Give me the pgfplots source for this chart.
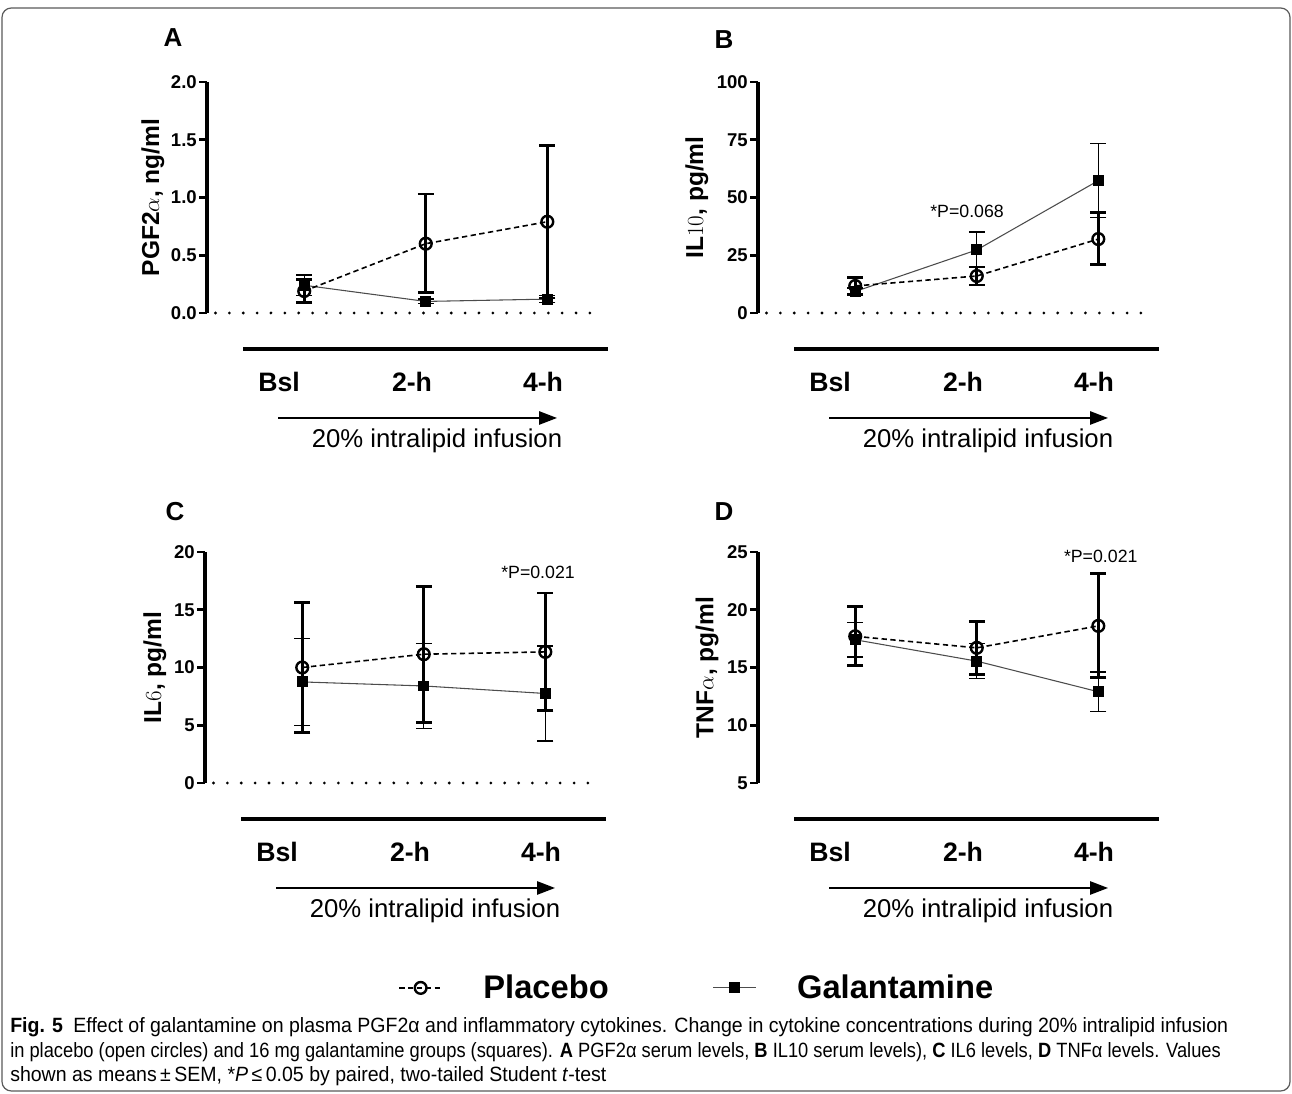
\documentclass[border=0pt]{standalone}
\usepackage[no-math]{fontspec}
\usepackage{pgfplots}
\pgfplotsset{compat=1.18}
\usetikzlibrary{arrows.meta}
\setmainfont{Liberation Sans}
\newfontfamily\capfont{Liberation Sans}[FakeStretch=0.945]
\newfontfamily\capfontB{Liberation Sans}[FakeStretch=0.885]

\pgfplotsset{
  panel/.style={
    scale only axis, width=296.25pt, height=173.25pt,
    xmin=-0.8, xmax=2.45,
    axis x line=none, axis y line=left,
    y axis line style={line width=3pt,-},
    ytick style={line width=2.2pt, black},
    major tick length=6pt, tick align=outside,
    yticklabel style={font=\fontsize{13.9}{14}\selectfont\bfseries, inner sep=1.5pt},
    ylabel style={font=\fontsize{18.4}{20}\selectfont\bfseries, anchor=center},
    clip=false,
    legend image code/.code={\draw[mark repeat=2,mark phase=2,##1] plot coordinates {(0pt,0pt)(16pt,0pt)(32pt,0pt)};},
  },
  plac/.style={black, line width=1.2pt, dash pattern=on 4pt off 2.6pt, mark=o, mark size=4.4pt,
    mark options={solid, line width=1.8pt},
    error bars/y dir=both, error bars/y explicit,
    error bars/error bar style={line width=2.2pt, solid, black},
    error bars/error mark options={rotate=90, mark size=6pt, line width=2.2pt, solid, black}},
  gal/.style={black!70, line width=0.8pt, mark=square*, mark size=3.7pt, mark options={black, solid},
    error bars/y dir=both, error bars/y explicit,
    error bars/error bar style={line width=1pt, black},
    error bars/error mark options={rotate=90, mark size=6pt, line width=1pt, black}},
  zero/.style={black, line width=2.3pt, line cap=round, dash pattern=on 0pt off 10.4pt, mark=none, forget plot},
}

\newcommand\panelbottom[2]{%
 \begin{scope}[shift={(#1,#2)}]
  \draw[line width=3.4pt] (36,36) -- (401,36);
  \node[font=\fontsize{20}{22}\selectfont\bfseries] at (72,69) {Bsl};
  \node[font=\fontsize{20}{22}\selectfont\bfseries] at (205,69) {2-h};
  \node[font=\fontsize{20}{22}\selectfont\bfseries] at (336,69) {4-h};
  \draw[line width=1.3pt, -{Triangle[length=13.5pt, width=10pt]}] (71,105) -- (350,105);
  \node[font=\fontsize{19.3}{21}\selectfont] at (230,128) {20\% intralipid infusion};
 \end{scope}}

\begin{document}
\begin{tikzpicture}
\useasboundingbox (0,0) rectangle (969pt,820.5pt);

% Panel A
\begin{axis}[panel, at={(155.25pt,585.75pt)}, anchor=south west,
  ymin=0, ymax=2, ytick={0,0.5,1,1.5,2}, yticklabels={0.0,0.5,1.0,1.5,2.0},
  ylabel={PGF2$\alpha$, ng/ml}, ylabel style={at={(axis description cs:-0.137,0.5)}}]
\addplot[zero] coordinates {(-0.73,0) (2.45,0)};
\addplot[gal] coordinates {(0,0.24) +- (0,0.09) (1,0.10) +- (0,0.02) (2,0.12) +- (0,0.03)};
\addplot[plac] coordinates {(0,0.19) +- (0,0.10) (1,0.60) += (0,0.43) -= (0,0.42) (2,0.79) +- (0,0.66)};
\end{axis}

% Panel B
\begin{axis}[panel, at={(568.5pt,585.75pt)}, anchor=south west,
  ymin=0, ymax=100, ytick={0,25,50,75,100}, yticklabels={0,25,50,75,100},
  ylabel={IL$10$, pg/ml}, ylabel style={at={(axis description cs:-0.155,0.5)}}]
\addplot[zero] coordinates {(-0.73,0) (2.45,0)};
\addplot[gal] coordinates {(0,9.3) +- (0,1.5) (1,27.3) +- (0,7.7) (2,57.3) +- (0,16.1)};
\addplot[plac] coordinates {(0,11.7) +- (0,3.8) (1,16.0) +- (0,3.9) (2,32.0) += (0,11.5) -= (0,11.2)};
\node[font=\fontsize{13.3}{15}\selectfont] at (axis cs:0.92,43.8) {*P=0.068};
\end{axis}

% Panel C
\begin{axis}[panel, at={(153.75pt,233.25pt)}, anchor=south west,
  ymin=0, ymax=20, ytick={0,5,10,15,20}, yticklabels={0,5,10,15,20},
  ylabel={IL$6$, pg/ml}, ylabel style={at={(axis description cs:-0.127,0.5)}},
  legend columns=2,
  legend style={at={(axis description cs:1.246,-0.887)}, anchor=center, draw=none,
    font=\fontsize{24.5}{26}\selectfont\bfseries, inner sep=0pt,
    /tikz/every odd column/.append style={column sep=28.5pt},
    /tikz/every even column/.append style={column sep=76pt}}]
\addplot[zero] coordinates {(-0.73,0) (2.45,0)};
\addplot[plac] coordinates {(0,10.0) +- (0,5.6) (1,11.15) +- (0,5.9) (2,11.35) +- (0,5.1)};
\addlegendentry{Placebo}
\addplot[gal] coordinates {(0,8.75) +- (0,3.75) (1,8.4) +- (0,3.7) (2,7.75) +- (0,4.1)};
\addlegendentry{Galantamine}
\node[font=\fontsize{13.3}{15}\selectfont] at (axis cs:1.94,18.24) {*P=0.021};
\end{axis}

% Panel D
\begin{axis}[panel, at={(568.5pt,233.25pt)}, anchor=south west,
  ymin=5, ymax=25, ytick={5,10,15,20,25}, yticklabels={5,10,15,20,25},
  ylabel={TNF$\alpha$, pg/ml}, ylabel style={at={(axis description cs:-0.129,0.5)}}]
\addplot[gal] coordinates {(0,17.4) +- (0,1.5) (1,15.55) +- (0,1.5) (2,12.9) +- (0,1.7)};
\addplot[plac] coordinates {(0,17.7) +- (0,2.55) (1,16.7) +- (0,2.3) (2,18.6) +- (0,4.5)};
\node[font=\fontsize{13.3}{15}\selectfont] at (axis cs:2.02,24.6) {*P=0.021};
\end{axis}

\begin{scope}[shift={(0pt,820.5pt)}, x=0.75pt, y=-0.75pt]
\draw[black!65, line width=0.9pt, rounded corners=7pt] (2,8) rectangle (1290,1091);
\panelbottom{207}{313}
\panelbottom{758}{313}
\panelbottom{205}{783}
\panelbottom{758}{783}
\foreach \L/\x/\y in {A/173/38, B/724/40, C/175/512, D/724/512}
  \node[font=\fontsize{19.5}{21}\selectfont\bfseries] at (\x,\y) {\L};
\node[anchor=west, inner sep=0pt, font=\capfont\fontsize{15.5}{18}\selectfont] at (10,1027) {\textbf{Fig. 5}\hspace{0.5em}Effect of galantamine on plasma PGF2α and inflammatory cytokines. Change in cytokine concentrations during 20\% intralipid infusion};
\node[anchor=west, inner sep=0pt, font=\capfontB\fontsize{15.5}{18}\selectfont] at (10,1052) {in placebo (open circles) and 16 mg galantamine groups (squares). \textbf{A} PGF2α serum levels, \textbf{B} IL10 serum levels), \textbf{C} IL6 levels, \textbf{D} TNFα levels. Values};
\node[anchor=west, inner sep=0pt, font=\capfont\fontsize{15.5}{18}\selectfont] at (10,1076) {shown as means\,±\,SEM, *\textit{P}\,≤\,0.05 by paired, two-tailed Student \textit{t}-test};
\end{scope}
\end{tikzpicture}
\end{document}
